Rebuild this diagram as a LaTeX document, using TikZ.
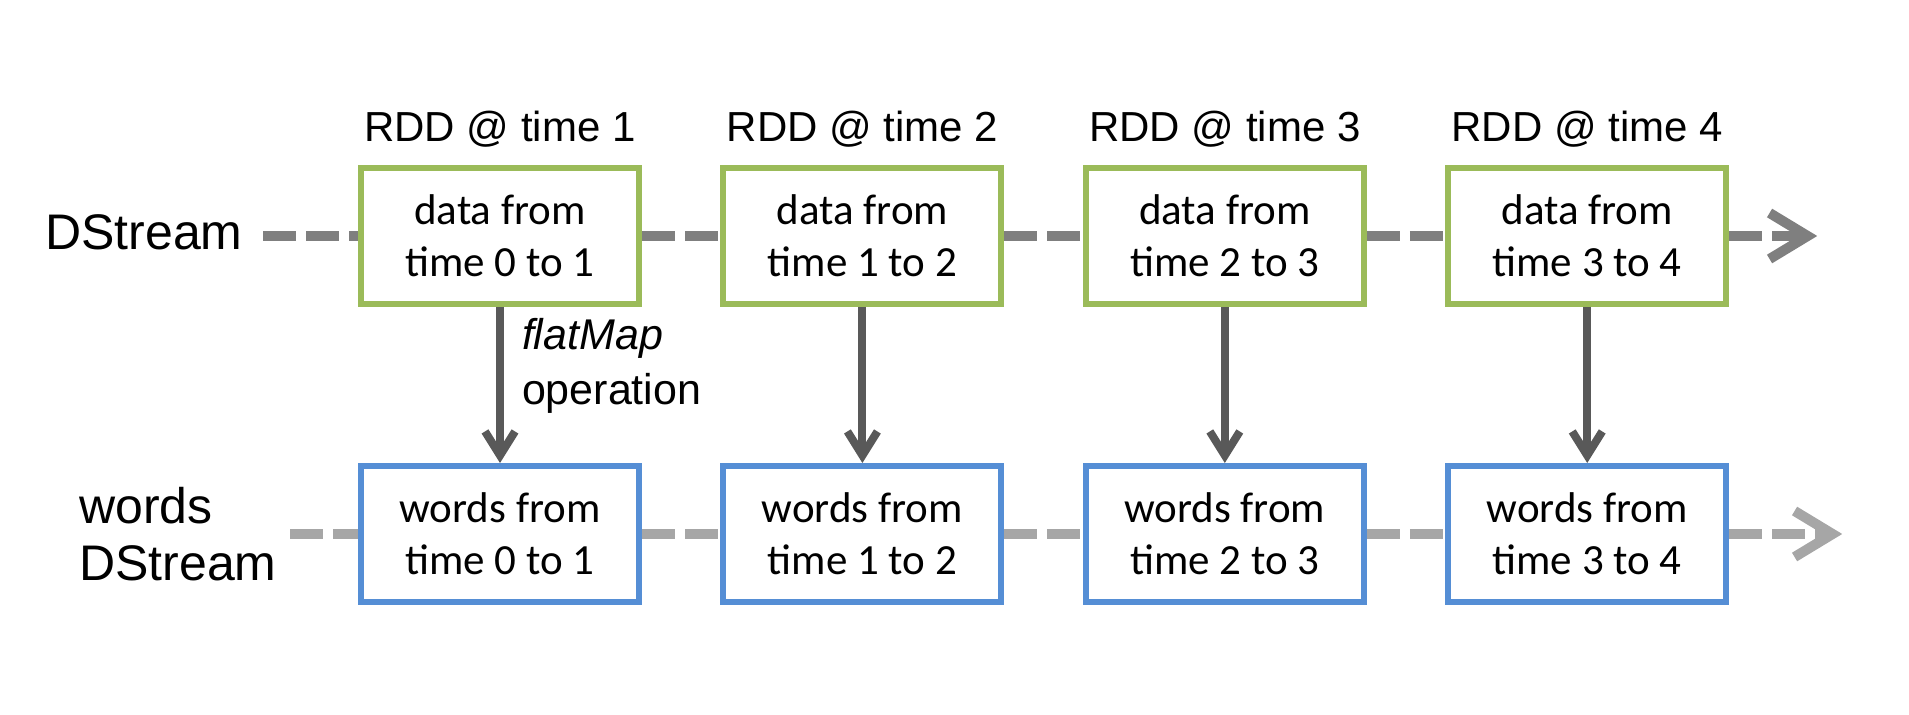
\documentclass[tikz,border=0pt]{standalone}
\usepackage{fontspec}
\setmainfont{Liberation Sans}
\newfontfamily\boxfont{Carlito}
\usepackage{xcolor}
\usepackage{tikz}
\usetikzlibrary{arrows.meta, positioning}
\definecolor{rddgreen}{RGB}{155,187,89}
\definecolor{wordblue}{RGB}{85,142,213}
\definecolor{streamgray}{RGB}{127,127,127}
\definecolor{wordgray}{RGB}{166,166,166}
\definecolor{opgray}{RGB}{89,89,89}
\tikzstyle{rddbox} = [rectangle, minimum width=139pt, minimum height=68pt, line width=3pt, text centered, align=center, draw=rddgreen, fill=white, font=\boxfont\fontsize{21.5}{26}\selectfont]
\tikzstyle{wordbox} = [rddbox, draw=wordblue]
\tikzstyle{rddlabel} = [inner sep=0pt, font=\fontsize{21}{25}\selectfont]
\tikzstyle{streamlabel} = [inner sep=0pt, align=left, font=\fontsize{25}{28.5}\selectfont]
\tikzstyle{oplabel} = [midway, anchor=west, inner sep=0pt, xshift=9pt, yshift=9.5pt, align=left, font=\fontsize{21.5}{27.5}\selectfont]
\tikzstyle{stream} = [line width=5pt, dash pattern=on 16.5pt off 5pt, draw=streamgray, -{Straight Barb[length=19pt, width=23pt]}]
\tikzstyle{wordstream} = [stream, draw=wordgray]
\tikzstyle{arrow} = [line width=4pt, draw=opgray, -{Straight Barb[length=12pt, width=15pt]}]

\begin{document}
\begin{tikzpicture}

\useasboundingbox (0,0) rectangle (954.5pt,-357.5pt);

% DStream row
\node (data1) [rddbox] at (250pt,-118pt) {data from\\time 0 to 1};
\node (data2) [rddbox, right=39.2pt of data1] {data from\\time 1 to 2};
\node (data3) [rddbox, right=39.2pt of data2] {data from\\time 2 to 3};
\node (data4) [rddbox, right=39.2pt of data3] {data from\\time 3 to 4};

% RDD labels
\node (rdd1) [rddlabel, above=8.6pt of data1] {RDD @ time 1};
\node (rdd2) [rddlabel, above=8.6pt of data2] {RDD @ time 2};
\node (rdd3) [rddlabel, above=8.6pt of data3] {RDD @ time 3};
\node (rdd4) [rddlabel, above=8.6pt of data4] {RDD @ time 4};

% words DStream row
\node (words1) [wordbox, below=78pt of data1] {words from\\time 0 to 1};
\node (words2) [wordbox, right=39.2pt of words1] {words from\\time 1 to 2};
\node (words3) [wordbox, right=39.2pt of words2] {words from\\time 2 to 3};
\node (words4) [wordbox, right=39.2pt of words3] {words from\\time 3 to 4};

% Stream names
\node (dlabel) [streamlabel, left=57.5pt of data1, yshift=2pt] {DStream};
\node (wlabel) [streamlabel, left=40.5pt of words1] {words\\DStream};

% Stream ends
\coordinate [left=47.5pt of data1] (dstart);
\coordinate [right=44pt of data4] (dend);
\coordinate [left=34pt of words1] (wstart);
\coordinate [right=56.5pt of words4] (wend);

% Arrows
\draw [stream] (dstart) -- (data1) -- (data2) -- (data3) -- (data4) -- (dend);
\draw [wordstream] (wstart) -- (words1) -- (words2) -- (words3) -- (words4) -- (wend);
\draw [arrow] (data1) -- node[oplabel] {\textit{flatMap}\\operation} (words1);
\draw [arrow] (data2) -- (words2);
\draw [arrow] (data3) -- (words3);
\draw [arrow] (data4) -- (words4);

\end{tikzpicture}
\end{document}
